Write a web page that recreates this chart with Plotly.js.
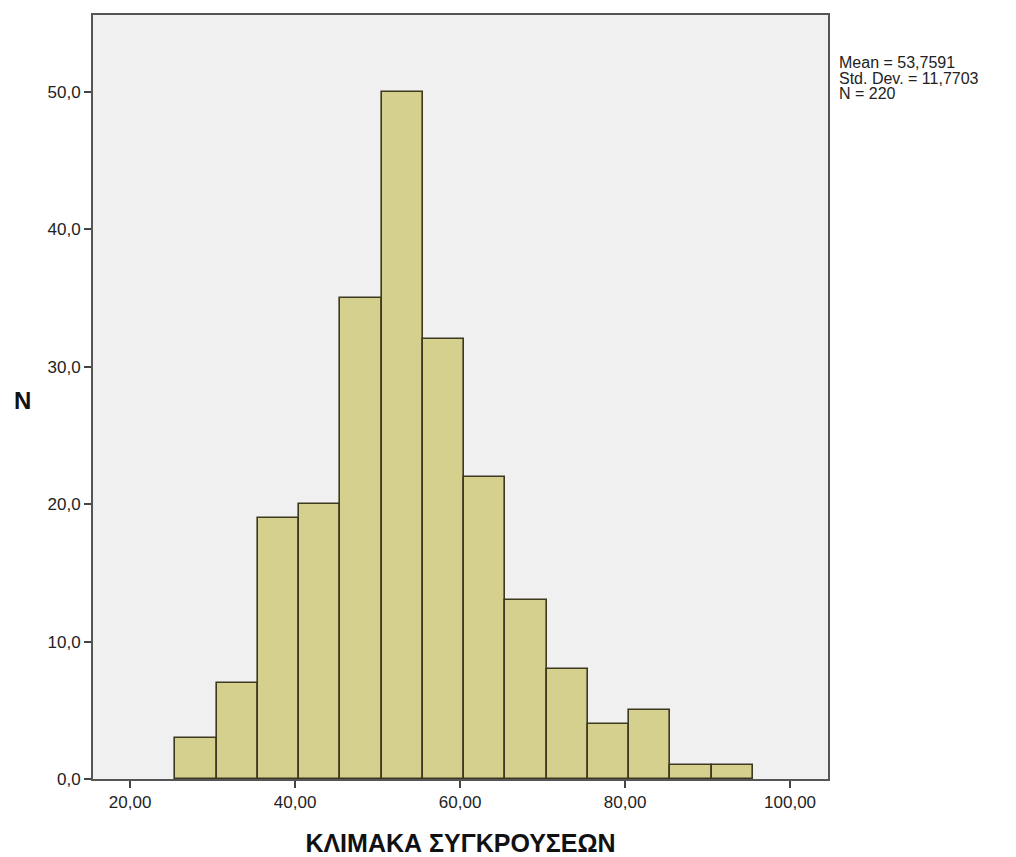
<!DOCTYPE html>
<html><head><meta charset="utf-8">
<script src="https://cdn.plot.ly/plotly-3.0.1.min.js"></script>
<style>body{margin:0;background:#fff}#c{width:1016px;height:857px}</style>
</head><body><div id="c"></div>
<script>
const binCenters = [28, 33, 38, 43, 48, 53, 58, 63, 68, 73, 78, 83, 88, 93];
const counts = [3, 7, 19, 20, 35, 50, 32, 22, 13, 8, 4, 5, 1, 1];
const xTicks = [20, 40, 60, 80, 100];
const yTicks = [0, 10, 20, 30, 40, 50];
const statsLines = ["Mean = 53,7591", "Std. Dev. = 11,7703", "N = 220"];

const trace = {
  type: 'bar', x: binCenters, y: counts, width: 5,
  marker: {color: '#d6d08f', line: {color: '#3d3820', width: 1.6}},
  hoverinfo: 'x+y'
};
const annotations = statsLines.map((t, i) => ({
  xref: 'paper', yref: 'paper', x: 1.012, y: 1 - (62 + 16 * i - 15) / 764,
  xanchor: 'left', yanchor: 'middle', text: t, showarrow: false, align: 'left',
  font: {size: 16, color: '#222', family: 'Liberation Sans, Arial, sans-serif'}
}));
annotations.push({
  xref: 'paper', yref: 'paper', x: (22 - 93) / 735, y: 1 - (401 - 15) / 764,
  xanchor: 'center', yanchor: 'middle', text: '<b>N</b>', showarrow: false,
  font: {size: 24, color: '#111'}
});
const layout = {
  width: 1016, height: 857,
  margin: {l: 93, r: 188, t: 15, b: 78},
  paper_bgcolor: '#ffffff', plot_bgcolor: '#f0f0f0',
  separators: ',.',
  font: {family: 'Liberation Sans, Arial, sans-serif', size: 17, color: '#222'},
  showlegend: false, bargap: 0,
  xaxis: {
    range: [15.5, 104.6], tickvals: xTicks, tickformat: '.2f',
    ticks: 'outside', ticklen: 7, tickwidth: 2, tickcolor: '#444',
    showline: true, linecolor: '#555', linewidth: 2, mirror: true,
    showgrid: false, zeroline: false,
    title: {text: '<b>ΚΛΙΜΑΚΑ ΣΥΓΚΡΟΥΣΕΩΝ</b>', font: {size: 25, color: '#111'}, standoff: 23}
  },
  yaxis: {
    range: [0, 55.6], tickvals: yTicks, tickformat: '.1f',
    ticks: 'outside', ticklen: 7, tickwidth: 2, tickcolor: '#444',
    showline: true, linecolor: '#555', linewidth: 2, mirror: true,
    showgrid: false, zeroline: false
  },
  annotations: annotations
};
Plotly.newPlot('c', [trace], layout, {displayModeBar: false});
</script></body></html>
